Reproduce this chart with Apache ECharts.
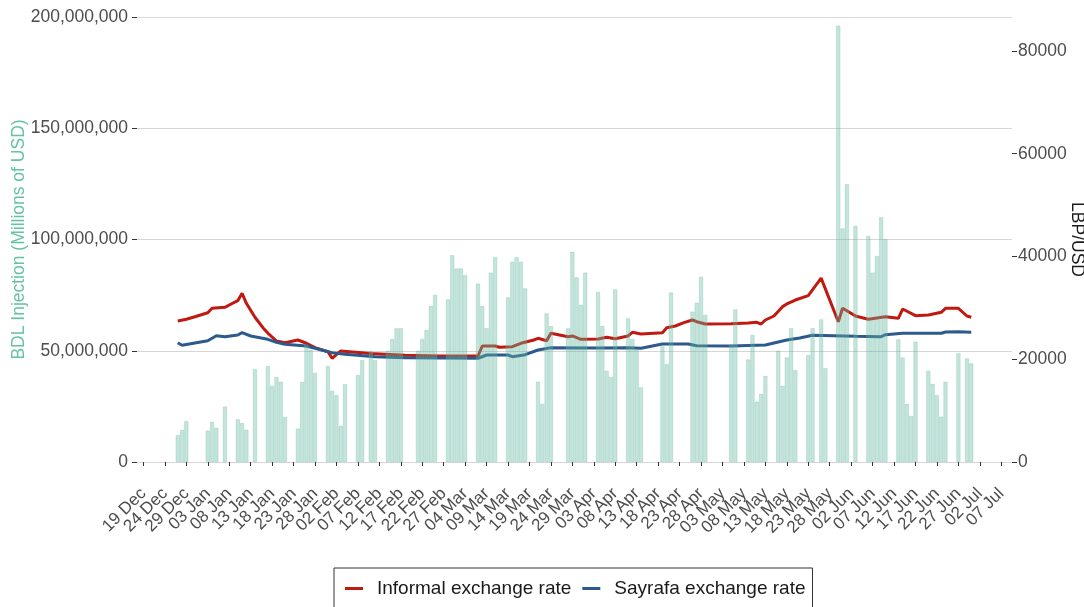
<!DOCTYPE html>
<html>
<head>
    <meta charset="utf-8">
    <title>BDL injection and exchange rates</title>
    <script src="https://cdn.jsdelivr.net/npm/echarts@6/dist/echarts.min.js"></script>
    <style>
        html, body { margin: 0; padding: 0; background: #fff; }
    </style>
</head>
<body>
    <div id="main" style="width: 1084px;height:607px;"></div>
    <script type="text/javascript">
        // BDL injection per business day (millions of USD)
        var bdlDates = [
            '2021-12-27','2021-12-28','2021-12-29',
            '2022-01-03','2022-01-04','2022-01-05','2022-01-07',
            '2022-01-10','2022-01-11','2022-01-12','2022-01-14',
            '2022-01-17','2022-01-18','2022-01-19','2022-01-20','2022-01-21',
            '2022-01-24','2022-01-25','2022-01-26','2022-01-27','2022-01-28',
            '2022-01-31','2022-02-01','2022-02-02','2022-02-03','2022-02-04',
            '2022-02-07','2022-02-08','2022-02-10','2022-02-11',
            '2022-02-14','2022-02-15','2022-02-16','2022-02-17',
            '2022-02-21','2022-02-22','2022-02-23','2022-02-24','2022-02-25',
            '2022-02-28','2022-03-01','2022-03-02','2022-03-03','2022-03-04',
            '2022-03-07','2022-03-08','2022-03-09','2022-03-10','2022-03-11',
            '2022-03-14','2022-03-15','2022-03-16','2022-03-17','2022-03-18',
            '2022-03-21','2022-03-22','2022-03-23','2022-03-24',
            '2022-03-28','2022-03-29','2022-03-30','2022-03-31','2022-04-01',
            '2022-04-04','2022-04-05','2022-04-06','2022-04-07','2022-04-08',
            '2022-04-11','2022-04-12','2022-04-13','2022-04-14',
            '2022-04-19','2022-04-20','2022-04-21',
            '2022-04-26','2022-04-27','2022-04-28','2022-04-29',
            '2022-05-05','2022-05-06',
            '2022-05-09','2022-05-10','2022-05-11','2022-05-12','2022-05-13',
            '2022-05-16','2022-05-17','2022-05-18','2022-05-19','2022-05-20',
            '2022-05-23','2022-05-24','2022-05-26','2022-05-27',
            '2022-05-30','2022-05-31','2022-06-01','2022-06-03',
            '2022-06-06','2022-06-07','2022-06-08','2022-06-09','2022-06-10',
            '2022-06-13','2022-06-14','2022-06-15','2022-06-16','2022-06-17',
            '2022-06-20','2022-06-21','2022-06-22','2022-06-23','2022-06-24',
            '2022-06-27','2022-06-29','2022-06-30'
        ];
        var bdlValues = [
            12.1, 14.4, 18.4,
            14.1, 18.0, 15.4, 24.9,
            19.2, 17.5, 14.5, 41.7,
            43.1, 34.2, 38.2, 36.1, 20.2,
            15.0, 36.0, 52.6, 50.3, 40.0,
            43.1, 32.0, 30.1, 16.3, 35.0,
            39.1, 45.8, 50.0, 45.8,
            50.0, 55.3, 60.1, 60.1,
            50.0, 55.3, 59.3, 70.1, 75.1,
            73.1, 93.0, 87.0, 87.0, 84.0,
            80.2, 70.1, 60.1, 85.1, 92.1,
            74.0, 90.0, 92.1, 90.0, 78.0,
            36.1, 26.1, 66.8, 61.1,
            60.1, 94.5, 83.0, 70.6, 85.1,
            76.4, 61.1, 41.0, 38.2, 77.6,
            64.6, 55.2, 50.5, 33.6,
            52.0, 44.0, 76.2,
            67.6, 71.6, 83.2, 66.1,
            53.0, 68.6,
            46.1, 57.1, 27.1, 30.6, 38.7,
            50.0, 34.2, 47.0, 60.1, 41.3,
            48.1, 60.1, 64.1, 42.1,
            196.1, 105.0, 124.8, 106.1,
            101.6, 85.1, 92.6, 110.0, 100.1,
            55.1, 47.0, 26.1, 20.7, 54.1,
            41.0, 35.1, 30.1, 20.4, 36.1,
            48.8, 46.6, 44.3
        ];

        // informal (parallel market) rate, LBP per USD
        var informalDates = [
            '2021-12-27','2021-12-29','2021-12-31','2022-01-03','2022-01-04','2022-01-07','2022-01-08',
            '2022-01-10','2022-01-11','2022-01-12','2022-01-14','2022-01-16','2022-01-17','2022-01-19',
            '2022-01-21','2022-01-24','2022-01-26','2022-01-28','2022-01-31','2022-02-01','2022-02-03',
            '2022-02-10','2022-02-18','2022-02-26','2022-03-07','2022-03-08','2022-03-11','2022-03-12',
            '2022-03-15','2022-03-17','2022-03-20','2022-03-21','2022-03-23','2022-03-24','2022-03-28',
            '2022-03-29','2022-03-31','2022-04-04','2022-04-06','2022-04-08','2022-04-11','2022-04-12',
            '2022-04-14','2022-04-19','2022-04-20','2022-04-22','2022-04-24','2022-04-26','2022-04-27',
            '2022-04-29','2022-05-05','2022-05-09','2022-05-11','2022-05-12','2022-05-13','2022-05-15',
            '2022-05-17','2022-05-18','2022-05-20','2022-05-23','2022-05-26','2022-05-30','2022-05-31',
            '2022-06-01','2022-06-03','2022-06-06','2022-06-10','2022-06-13','2022-06-14','2022-06-17',
            '2022-06-20','2022-06-23','2022-06-24','2022-06-27','2022-06-29','2022-06-30'
        ];
        var informalValues = [
            27450, 27780, 28280, 29060, 29920, 30110, 30560,
            31400, 32840, 30890, 28170, 26000, 25100, 23550,
            23220, 23750, 23110, 22250, 21470, 20190, 21610,
            21100, 20770, 20630, 20630, 22580, 22580, 22330,
            22440, 23110, 23750, 24080, 23610, 25050, 24390,
            24530, 23880, 23940, 24270, 24000, 24530, 25250,
            24920, 25170, 26140, 26470, 27120, 27640, 27310,
            26860, 26920, 27060, 27190, 26860, 27640, 28420,
            30240, 30760, 31530, 32400, 35800, 27310, 29920,
            29450, 28420, 27780, 28280, 27970, 29780, 28480,
            28610, 29140, 29920, 29920, 28420, 28170
        ];

        // Sayrafa platform rate, LBP per USD
        var sayrafaDates = [
            '2021-12-27','2021-12-28','2022-01-03','2022-01-05','2022-01-07','2022-01-10','2022-01-11',
            '2022-01-13','2022-01-17','2022-01-19','2022-01-21','2022-01-26','2022-01-28','2022-02-01',
            '2022-02-04','2022-02-11','2022-02-18','2022-03-07','2022-03-09','2022-03-14','2022-03-15',
            '2022-03-18','2022-03-21','2022-03-24','2022-04-04','2022-04-11','2022-04-14','2022-04-19',
            '2022-04-25','2022-04-27','2022-05-05','2022-05-13','2022-05-18','2022-05-21','2022-05-24',
            '2022-06-03','2022-06-09','2022-06-10','2022-06-14','2022-06-23','2022-06-24','2022-06-27',
            '2022-06-30'
        ];
        var sayrafaValues = [
            23220, 22720, 23610, 24580, 24390, 24720, 25170,
            24530, 23880, 23300, 22910, 22580, 22130, 21280,
            20960, 20500, 20300, 20190, 20830, 20830, 20500,
            20890, 21800, 22250, 22190, 22250, 22130, 22970,
            22970, 22640, 22580, 22770, 23750, 24140, 24660,
            24470, 24390, 24780, 25050, 25050, 25310, 25360,
            25250
        ];

        var leftTicks = [0, 50000000, 100000000, 150000000, 200000000];
        var rightTicks = [0, 20000, 40000, 60000, 80000];
        var monthNames = ['Jan','Feb','Mar','Apr','May','Jun','Jul','Aug','Sep','Oct','Nov','Dec'];

        // one category per calendar day, 18 Dec 2021 .. 09 Jul 2022
        var days = [];
        var t = Date.UTC(2021, 11, 18);
        var tEnd = Date.UTC(2022, 6, 9);
        while (t <= tEnd) {
            days.push(new Date(t).toISOString().slice(0, 10));
            t += 86400000;
        }
        function dayLabel(iso) {
            return iso.slice(8, 10) + ' ' + monthNames[parseInt(iso.slice(5, 7), 10) - 1];
        }

        var barData = days.map(function () { return null; });
        for (var i = 0; i < bdlDates.length; i++) {
            barData[days.indexOf(bdlDates[i])] = bdlValues[i] * 1e6;
        }
        function toPairs(dates, values) {
            return dates.map(function (d, k) { return [days.indexOf(d), values[k]]; });
        }
        // a tick every 5 days from 19 Dec
        function showTick(index) {
            return index >= 1 && (index - 1) % 5 === 0;
        }

        var font = "'Liberation Sans', Arial, Helvetica, sans-serif";
        var myChart = echarts.init(document.getElementById('main'));

        var option = {
            animation: false,
            backgroundColor: '#ffffff',
            textStyle: { fontFamily: font },
            grid: { left: 137, right: 72, top: 17, bottom: 145, containLabel: false, outerBoundsMode: 'none' },
            legend: {
                data: ['Informal exchange rate', 'Sayrafa exchange rate'],
                left: 334,
                top: 568,
                padding: [11, 7, 20, 11],
                borderColor: '#333333',
                borderWidth: 1,
                icon: 'rect',
                itemWidth: 18,
                itemHeight: 3,
                itemGap: 11,
                textStyle: { fontSize: 19, color: '#1a1a1a', fontFamily: font, padding: [0, 0, 0, 9] }
            },
            xAxis: {
                type: 'category',
                data: days,
                boundaryGap: true,
                offset: 21,
                axisLine: { show: false },
                axisTick: { show: true, alignWithLabel: true, interval: showTick, length: 4, lineStyle: { color: '#333' } },
                axisLabel: {
                    interval: 0,
                    rotate: 45,
                    margin: 8,
                    fontSize: 17,
                    color: '#4d4d4d',
                    fontFamily: font,
                    hideOverlap: false,
                    showMinLabel: false,
                    showMaxLabel: false,
                    formatter: function (v, idx) { return showTick(idx) ? dayLabel(v) : ''; }
                },
                splitLine: { show: false }
            },
            yAxis: [
                {
                    type: 'value',
                    position: 'left',
                    min: 0,
                    max: 200000000,
                    interval: 50000000,
                    axisLine: { show: false },
                    axisTick: { show: true, length: 5, lineStyle: { color: '#333' } },
                    axisLabel: {
                        margin: 9,
                        fontSize: 17.5,
                        color: '#4d4d4d',
                        fontFamily: font,
                        customValues: leftTicks,
                        formatter: function (v) { return v.toLocaleString('en-US'); }
                    },
                    splitLine: { show: true, lineStyle: { color: '#d6d6d6', width: 1.2 } },
                    name: 'BDL Injection (Millions of USD)',
                    nameLocation: 'middle',
                    nameGap: 109,
                    nameMoveOverlap: false,
                    nameTextStyle: { color: '#66c2a5', fontSize: 17.5, fontFamily: font }
                },
                {
                    type: 'value',
                    position: 'right',
                    min: 0,
                    max: 86618,
                    interval: 20000,
                    axisLine: { show: false },
                    axisTick: { show: true, length: 5, customValues: rightTicks, lineStyle: { color: '#333' } },
                    axisLabel: {
                        margin: 6,
                        fontSize: 17.5,
                        color: '#4d4d4d',
                        fontFamily: font,
                        customValues: rightTicks,
                        formatter: function (v) { return String(v); }
                    },
                    splitLine: { show: false },
                    name: 'LBP/USD',
                    nameLocation: 'middle',
                    nameRotate: -90,
                    nameGap: 56,
                    nameMoveOverlap: false,
                    nameTextStyle: { color: '#1a1a1a', fontSize: 17.5, fontFamily: font }
                }
            ],
            series: [
                {
                    name: 'Informal exchange rate',
                    type: 'line',
                    yAxisIndex: 1,
                    data: toPairs(informalDates, informalValues),
                    showSymbol: false,
                    lineStyle: { color: '#c0190f', width: 3 },
                    itemStyle: { color: '#c0190f' },
                    z: 2
                },
                {
                    name: 'Sayrafa exchange rate',
                    type: 'line',
                    yAxisIndex: 1,
                    data: toPairs(sayrafaDates, sayrafaValues),
                    showSymbol: false,
                    lineStyle: { color: '#2d5a8c', width: 3 },
                    itemStyle: { color: '#2d5a8c' },
                    z: 2
                },
                {
                    name: 'BDL Injection',
                    type: 'bar',
                    yAxisIndex: 0,
                    data: barData,
                    barCategoryGap: '4%',
                    itemStyle: {
                        color: 'rgba(102, 184, 160, 0.38)',
                        borderColor: 'rgba(102, 184, 160, 0.45)',
                        borderWidth: 0.6
                    },
                    z: 3
                }
            ]
        };

        myChart.setOption(option);
    </script>
</body>
</html>
